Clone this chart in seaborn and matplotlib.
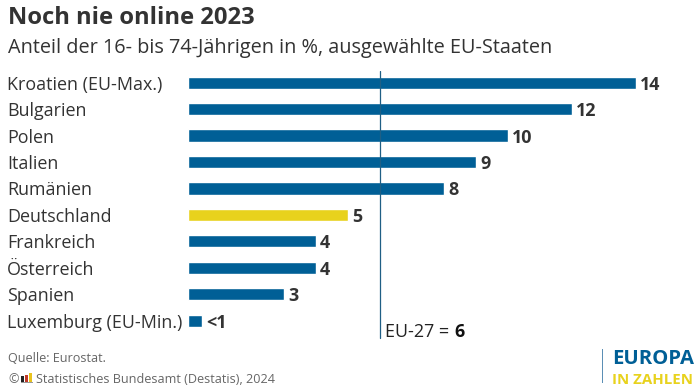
import matplotlib
matplotlib.use('Agg')
import matplotlib.pyplot as plt
from matplotlib.patches import Rectangle
import pandas as pd
import seaborn as sns

laender = ['Kroatien (EU-Max.)', 'Bulgarien', 'Polen', 'Italien', 'Rumänien',
           'Deutschland', 'Frankreich', 'Österreich', 'Spanien', 'Luxemburg (EU-Min.)']
werte = [14, 12, 10, 9, 8, 5, 4, 4, 3, 0.45]
beschriftung = ['14', '12', '10', '9', '8', '5', '4', '4', '3', '<1']
eu27 = 6

BLAU = '#005f96'
GELB = '#e8d21d'
TEXT = '#333333'
GRAU = '#666666'

sns.set_theme(style='white')
plt.rcParams['font.family'] = ['Open Sans', 'DejaVu Sans']

df = pd.DataFrame({'land': laender, 'wert': werte})

W, H = 700, 392
fig = plt.figure(figsize=(W / 100, H / 100), dpi=100)
ax = fig.add_axes([188 / W, 1 - 340.7 / H, (W - 188) / W, (340 - 70) / H])

sns.barplot(data=df, y='land', x='wert', hue='land', legend=False, ax=ax,
            palette=[GELB if l == 'Deutschland' else BLAU for l in laender],
            width=0.46, saturation=1)
ax.set_xlim(0, 16)
ax.set_ylim(9.76, -0.454)
ax.set_xlabel('')
ax.set_ylabel('')
ax.set_xticks([])
ax.tick_params(axis='y', length=0, pad=0)
ax.set_yticklabels([])
sns.despine(ax=ax, left=True, bottom=True)
ax.patch.set_alpha(0)

# Laendernamen und Werte
for i, (land, txt) in enumerate(zip(laender, beschriftung)):
    ax.annotate(land, xy=(0, i), xycoords=('axes fraction', 'data'), xytext=(-181 * 0.72, 0),
                textcoords='offset points', va='center_baseline', ha='left',
                fontsize=12.9, color=TEXT)
    ax.annotate(txt, xy=(werte[i], i), xytext=(3, 0), textcoords='offset points',
                va='center_baseline', ha='left', fontsize=12.9, fontweight='bold', color=TEXT)

# EU-Durchschnitt
ax.axvline(eu27, ymin=0.01, color='#1f5f85', lw=0.9)
t = fig.text(385 / W, 1 - 330 / H, 'EU-27 =', fontsize=12.9, color='#222222', va='center_baseline')
fig.canvas.draw()
bb = t.get_window_extent()
fig.text(bb.x1 / W + 0.007, 1 - 330 / H, str(eu27), fontsize=12.9, fontweight='bold',
         color='#111111', va='center_baseline')

# Titel
fig.text(8 / W, 1 - 15 / H, 'Noch nie online 2023', fontsize=17.1, fontweight='bold',
         color=TEXT, va='center_baseline')
fig.text(8 / W, 1 - 46 / H, 'Anteil der 16- bis 74-Jährigen in %, ausgewählte EU-Staaten',
         fontsize=14.3, color=TEXT, va='center_baseline')

# Quelle
fig.text(8 / W, 1 - 357 / H, 'Quelle: Eurostat.', fontsize=9.1, color=GRAU, va='center_baseline')
fig.text(8 / W, 1 - 378 / H, '©', fontsize=9.1, color=GRAU, va='center_baseline')
fig.text(36 / W, 1 - 378 / H, 'Statistisches Bundesamt (Destatis), 2024', fontsize=9.1,
         color=GRAU, va='center_baseline')
for x0, farbe, hoehe in [(21, '#222222', 6), (25, '#c0392b', 7), (29, '#e8c21d', 9)]:
    fig.add_artist(Rectangle((x0 / W, 1 - 382 / H), 3.4 / W, hoehe / H,
                             transform=fig.transFigure, color=farbe, lw=0))
fig.add_artist(Rectangle((21 / W, 1 - 383 / H), 11.5 / W, 1 / H,
                         transform=fig.transFigure, color='#999999', lw=0))

# Logo
fig.add_artist(Rectangle((601.5 / W, 1 - 383 / H), 1.3 / W, 34 / H,
                         transform=fig.transFigure, color='#5b8fb5', lw=0))
fig.text(612 / W, 1 - 357 / H, 'EUROPA', fontsize=14.6, fontweight='bold', color=BLAU, va='center_baseline')
fig.text(612 / W, 1 - 378 / H, 'IN ZAHLEN', fontsize=10.8, fontweight='bold', color=GELB, va='center_baseline')

fig.savefig('out.png', dpi=100)
